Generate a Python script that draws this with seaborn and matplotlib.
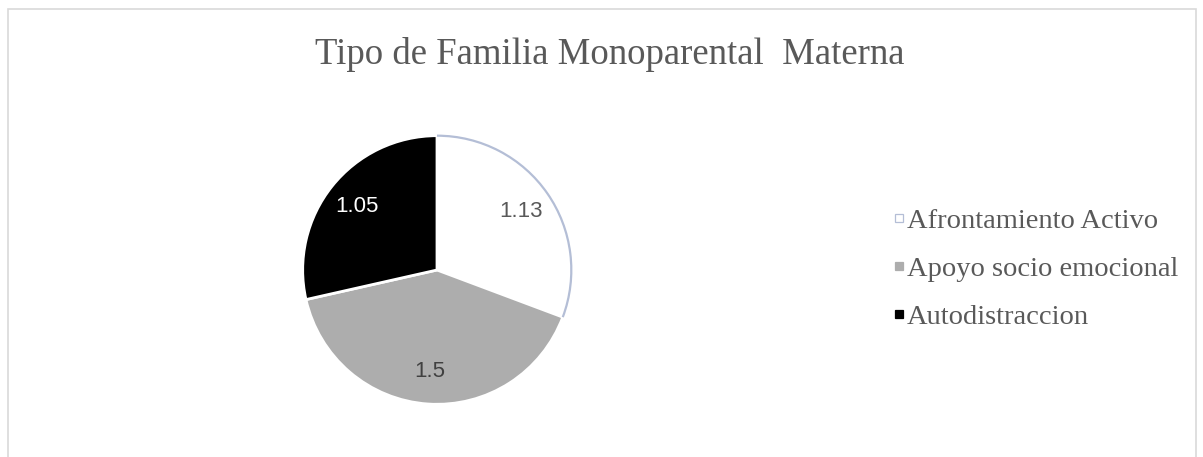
import matplotlib
matplotlib.use("Agg")
import matplotlib.pyplot as plt
from matplotlib.patches import Arc, Rectangle
from matplotlib.lines import Line2D
import seaborn as sns

# Coping strategy scores for single-mother families
categories = ["Afrontamiento Activo", "Apoyo socio emocional", "Autodistraccion"]
values = [1.13, 1.5, 1.05]
labels = ["1.13", "1.5", "1.05"]
title = "Tipo de Familia Monoparental  Materna"

slice_colors = ["#FFFFFF", "#ADADAD", "#000000"]
label_colors = ["#595959", "#404040", "#FFFFFF"]
outline_color = "#B4BED6"
text_gray = "#595959"

sns.set_theme(style="white")
plt.rcParams["font.family"] = ["Liberation Serif", "DejaVu Serif"]

W, H = 1203, 457
fig = plt.figure(figsize=(W / 100, H / 100), dpi=100)
fig.patch.set_facecolor("white")

# chart frame
fig.add_artist(Rectangle((8 / W, -0.02), (1196 - 8) / W, 1.02 - 9 / H,
                         transform=fig.transFigure, fill=False,
                         edgecolor="#D9D9D9", linewidth=1.2))

cx, cy, r = 437, 270, 137
ax = fig.add_axes([(cx - r) / W, (H - cy - r) / H, 2 * r / W, 2 * r / H])
wedges, texts = ax.pie(values, colors=slice_colors, startangle=90,
                       counterclock=False, radius=1.0,
                       labels=labels, labeldistance=0.76,
                       wedgeprops=dict(edgecolor="white", linewidth=2.0),
                       textprops=dict(fontsize=16, family="Liberation Sans"))
for t, c in zip(texts, label_colors):
    t.set_color(c)
    t.set_horizontalalignment("center")
    t.set_verticalalignment("center")

# thin outline along the white slice's outer arc
w0 = wedges[0]
ax.add_patch(Arc((0, 0), 2.0, 2.0, theta1=w0.theta1, theta2=w0.theta2,
                 edgecolor=outline_color, linewidth=1.6, zorder=3))
ax.set_xlim(-1.02, 1.02)
ax.set_ylim(-1.02, 1.02)
ax.set_aspect("equal")
ax.axis("off")

fig.text(610 / W, 1 - 55 / H, title, ha="center", va="center",
         fontsize=26.5, color=text_gray, family=["Liberation Serif"])

handles = [Line2D([], [], linestyle="None", marker="s", markersize=5.5,
                  markerfacecolor=c,
                  markeredgecolor=(outline_color if c == "#FFFFFF" else c),
                  markeredgewidth=0.9) for c in slice_colors]
leg = fig.legend(handles, categories, loc="center left",
                 bbox_to_anchor=(894 / W, 1 - 269 / H), frameon=False,
                 fontsize=20.5, labelcolor=text_gray,
                 handlelength=0.32, handleheight=0.7, handletextpad=0.12,
                 labelspacing=0.77, borderaxespad=0, borderpad=0)

fig.savefig("out.png", dpi=100, facecolor="white")
